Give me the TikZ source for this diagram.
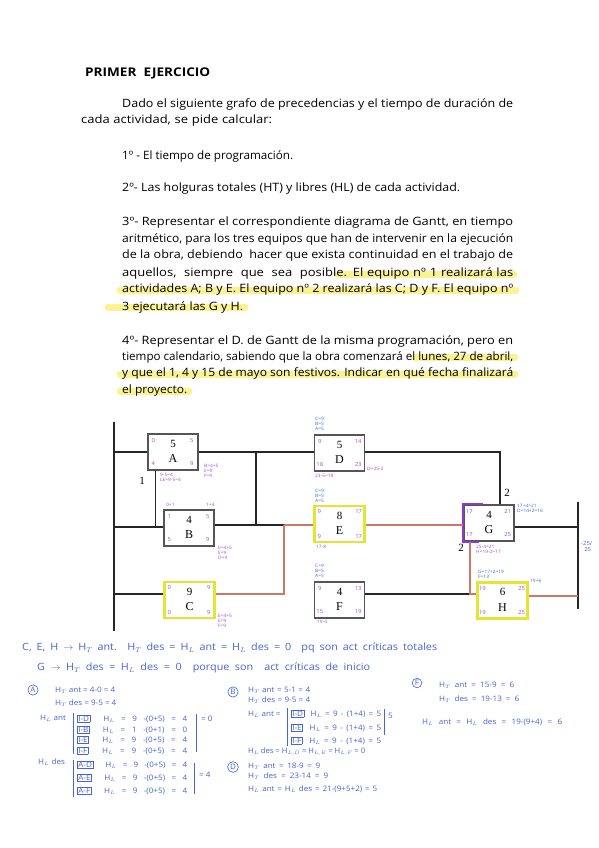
\documentclass[tikz,border=0pt]{standalone}
\usepackage{fontspec}
\setmainfont{Open Sans}[FakeStretch=1.13]
\newfontfamily\serifnum{Liberation Serif}
\newfontfamily\hwf{Open Sans}[FakeStretch=1.08]
\usetikzlibrary{calc}
\definecolor{hl}{RGB}{247,240,110}
\definecolor{boxgray}{RGB}{85,85,85}
\definecolor{ybox}{RGB}{228,228,50}
\definecolor{redl}{RGB}{205,120,100}
\definecolor{purp}{RGB}{135,60,205}
\definecolor{hwblue}{RGB}{70,100,210}
\definecolor{hwpurp}{RGB}{150,80,210}
\newsavebox\lnbox
\newcommand{\jl}[2]{\sbox\lnbox{#2}\ifdim\wd\lnbox>#1\resizebox{#1}{\height}{#2}\else\makebox[#1][s]{#2}\fi}
\newcommand{\bx}[1]{{\setlength{\fboxsep}{0.6pt}\setlength{\fboxrule}{0.5pt}\fbox{#1}}}
\newcommand{\myact}[9]{%
  \node[#9] (#1) at (#2) {};
  \node[durtxt] (#1d) at ($(#1.north)+(0,11)$) {#3};
  \node[lettxt] (#1l) at ($(#1.center)+(0,7)$) {#4};
  \node[cor] (#1tl) at ($(#1.north west)+(6,7)$) {#5};
  \node[cor] (#1tr) at ($(#1.north east)+(-7,7)$) {#6};
  \node[cor] (#1bl) at ($(#1.south west)+(6,-7)$) {#7};
  \node[cor] (#1br) at ($(#1.south east)+(-7,-7)$) {#8};
}
\begin{document}
\begin{tikzpicture}[x=1pt,y=-1pt,
  body/.style={anchor=west,inner sep=0,font=\fontsize{11.5}{13}\selectfont},
  hlt/.style={draw=hl,line width=7pt,line cap=round,opacity=0.75},
  actg/.style={draw=boxgray,line width=1.4pt,minimum width=50pt,minimum height=36pt,inner sep=0,fill=white},
  acty/.style={actg,draw=ybox,line width=2.4pt},
  durtxt/.style={inner sep=0,font=\serifnum\fontsize{11}{12}\selectfont},
  lettxt/.style={inner sep=0,font=\serifnum\fontsize{12}{13}\selectfont},
  cor/.style={inner sep=0,text=hwpurp,font=\hwf\fontsize{5.5}{6}\selectfont},
  conn/.style={draw=black!85,line width=1.3pt},
  crit/.style={draw=redl,line width=2pt},
  lagtxt/.style={inner sep=0,font=\serifnum\fontsize{11}{12}\selectfont},
  pn/.style={anchor=west,inner sep=0,text=hwpurp,font=\hwf\fontsize{4.5}{5}\selectfont,align=left},
  bn/.style={pn,text=hwblue},
  hw/.style={anchor=west,inner sep=0,text=hwblue,font=\hwf\fontsize{7.5}{8}\selectfont},
  hwl/.style={hw,font=\hwf\fontsize{10}{11}\selectfont},
  brk/.style={draw=hwblue,line width=0.6pt},
  circ/.style={draw=hwblue,circle,line width=0.6pt,inner sep=1pt,text=hwblue,font=\hwf\fontsize{7.5}{7.5}\selectfont}
]
\useasboundingbox (0,0) rectangle (599,848);
\fill[white] (0,0) rectangle (599,848);

% highlights
\draw[hlt] (338,274) -- (514,274);
\draw[hlt] (120,290) -- (516,290);
\draw[hlt] (108,307) -- (245,307);
\draw[hlt] (415,357) -- (515,357);
\draw[hlt] (120,374) -- (515,374);
\draw[hlt] (120,391) -- (189,391);

% text
\node[body,font=\bfseries\fontsize{12}{13}\selectfont] (title) at (85,73) {\jl{125pt}{PRIMER \ EJERCICIO}};
\node[body] (p1a) at (122,104) {\jl{391pt}{Dado el siguiente grafo de precedencias y el tiempo de duración de}};
\node[body] (p1b) at (81,121) {\jl{191pt}{cada actividad, se pide calcular:}};
\node[body] (p2) at (122,156) {\jl{171pt}{1º - El tiempo de programación.}};
\node[body] (p3) at (122,189) {\jl{338pt}{2º- Las holguras totales (HT) y libres (HL) de cada actividad.}};
\node[body] (p4a) at (122,223) {\jl{391pt}{3º- Representar el correspondiente diagrama de Gantt, en tiempo}};
\node[body] (p4b) at (122,239) {\jl{391pt}{aritmético, para los tres equipos que han de intervenir en la ejecución}};
\node[body] (p4c) at (122,256) {\jl{391pt}{de la obra, debiendo \ hacer que exista continuidad en el trabajo de}};
\node[body] (p4d) at (122,273) {\jl{391pt}{aquellos, \ siempre \ que \ sea \ posible. El equipo nº 1 realizará las}};
\node[body] (p4e) at (122,289) {\jl{391pt}{actividades A; B y E. El equipo nº 2 realizará las C; D y F. El equipo nº}};
\node[body] (p4f) at (122,307) {\jl{121pt}{3 ejecutará las G y H.}};
\node[body] (p5a) at (122,341) {\jl{391pt}{4º- Representar el D. de Gantt de la misma programación, pero en}};
\node[body] (p5b) at (122,357) {\jl{391pt}{tiempo calendario, sabiendo que la obra comenzará el lunes, 27 de abril,}};
\node[body] (p5c) at (122,373) {\jl{391pt}{y que el 1, 4 y 15 de mayo son festivos. Indicar en qué fecha finalizará}};
\node[body] (p5d) at (122,391) {\jl{65pt}{el proyecto.}};

% activities
\myact{A}{173,452}{5}{A}{0}{5}{4}{9}{actg}
\myact{B}{189,528}{4}{B}{1}{5}{5}{9}{actg}
\myact{C}{189.5,600}{9}{C}{0}{9}{0}{9}{acty}
\myact{D}{339.5,453}{5}{D}{9}{14}{18}{23}{actg}
\myact{E}{339.5,524}{8}{E}{9}{17}{9}{17}{acty}
\myact{F}{339.5,600}{4}{F}{9}{13}{15}{19}{actg}
\myact{G}{489,523}{4}{G}{17}{21}{17}{25}{actg}
\myact{H}{502.5,600.5}{6}{H}{19}{25}{19}{25}{acty}
\draw[purp,line width=2pt] ($(G.north west)+(20,0)$) -- (G.north west) -- (G.south west) -- ($(G.south west)+(16,0)$);

% connectors
\coordinate (r1) at (0,452);
\coordinate (r2) at (0,525);
\coordinate (r2b) at (0,527);
\coordinate (r3) at (0,594);
\coordinate (r3b) at (0,595.5);
\coordinate (s1) at (114,422);
\coordinate (s2) at (114,631);
\coordinate (e1) at (578,502);
\coordinate (e2) at (578,609);
\draw[conn] (s1) -- (s2);
\draw[conn] (e1) -- (e2);
\draw[conn] (s1 |- A.west) -- (A.west);
\draw[conn] (s1 |- r2b) -- (B.west |- r2b);
\draw[conn] (s1 |- r3) -- (C.west |- r3);
\coordinate (a1) at ($(A.south west)+(8,0)$);
\draw[conn] (a1) -- (a1 |- r2b);
\draw[conn] (A.east) -- (D.west |- A.east);
\coordinate (j1) at (256,452);
\draw[conn] (j1) -- (j1 |- r2);
\coordinate (j2) at (284,525);
\draw[conn] (B.east |- r2) -- (j2);
\draw[crit] (j2) -- (E.west |- r2);
\draw[crit] (j2) -- (j2 |- r3) -- (C.east |- r3);
\coordinate (j3) at (500,452);
\draw[conn] (D.east |- j3) -- (j3) -- (j3 |- G.north);
\draw[crit] (E.east |- r2) -- (G.west |- r2);
\draw[conn] (G.east |- r2b) -- (e1 |- r2b);
\coordinate (j4) at ($(G.south west)+(7,0)$);
\draw[conn] (F.east |- r3) -- (j4 |- r3);
\draw[crit] (j4) -- (j4 |- r3) -- (H.west |- r3);
\draw[crit] (H.east |- r3b) -- (e1 |- r3b);
\node[lagtxt] (lag1) at (142,481) {1};
\node[lagtxt] (lag2) at (507,493) {2};
\node[lagtxt] (lag3) at (461,548) {2};

% small annotations near the graph
\node[pn] (nA1) at (160,477) {9-5=4\\LE=9-5=4};
\node[pn] (nA2) at (204,471) {B=4+5\\E=9\\F=9};
\node[pn] (nB0) at (166,505) {0+1};
\node[pn] (nB00) at (206,505) {1+4};
\node[pn] (nB1) at (218,553) {E=4+5\\E=9\\D=9};
\node[pn] (nC1) at (218,621) {E=4+5\\E=9\\F=9};
\node[bn] (nD0) at (315,424) {C=9\\B=5\\A=5};
\node[pn] (nD1) at (367,469) {D=25-2};
\node[pn] (nD2) at (315,476) {23-5=18};
\node[bn] (nE0) at (315,496) {C=9\\B=5\\A=5};
\node[pn] (nE1) at (316,547) {17-8};
\node[bn] (nF0) at (315,571) {C=9\\B=5\\A=5};
\node[pn] (nF1) at (317,622) {19-4};
\node[bn] (nG1) at (517,508) {17+4=21\\D=14+2=16};
\node[pn] (nG2) at (476,549) {25-4=21\\H=19-2=17};
\node[bn] (nH0) at (478,574) {G=17+2=19\\F=13};
\node[bn] (nH1) at (530,581) {19+6};
\node[bn,font=\hwf\fontsize{5.5}{6}\selectfont] (nEnd) at (581,547) {-25/\\\ \ 25};

% handwritten notes
\node[hwl] (h1) at (22,648) {\jl{415pt}{C, E, H $\rightarrow$ H$_T$ ant. H$_T$ des = H$_L$ ant = H$_L$ des = 0 \ pq son act críticas totales}};
\node[hwl] (h2) at (37,668) {\jl{333pt}{G $\rightarrow$ H$_T$ des = H$_L$ des = 0 \ porque son \ act críticas de inicio}};

\node[circ] (cA) at (33,690) {A};
\node[hw] (a1t) at (55,690) {H$_T$ ant = 4-0 = 4};
\node[hw] (a2t) at (55,703) {H$_T$ des = 9-5 = 4};
\node[hw] (a3t) at (40,718) {H$_L$ ant};
\draw[brk] (73,713) -- (73,754);
\node[hw] (a4t) at (77,719) {\jl{110pt}{\bx{I-D} \ H$_L$ = 9 -(0+5) = 4}};
\node[hw] (a5t) at (77,730) {\jl{110pt}{\bx{I-B} \ H$_L$ = 1 -(0+1) = 0}};
\node[hw] (a6t) at (77,740) {\jl{110pt}{\bx{I-E} \ H$_L$ = 9 -(0+5) = 4}};
\node[hw] (a7t) at (77,751) {\jl{110pt}{\bx{I-F} \ H$_L$ = 9 -(0+5) = 4}};
\draw[brk] (196,714) -- (196,752);
\node[hw] (a8t) at (201,719) {= 0};
\node[hw] (a9t) at (38,762) {H$_L$ des};
\draw[brk] (73,760) -- (73,797);
\node[hw] (a10t) at (77,765) {\jl{110pt}{\bx{A-D} \ H$_L$ = 9 -(0+5) = 4}};
\node[hw] (a11t) at (77,778) {\jl{110pt}{\bx{A-E} \ H$_L$ = 9 -(0+5) = 4}};
\node[hw] (a12t) at (77,791) {\jl{110pt}{\bx{A-F} \ H$_L$ = 9 -(0+5) = 4}};
\draw[brk] (194,763) -- (194,794);
\node[hw] (a13t) at (199,775) {= 4};

\node[circ] (cB) at (233,692) {B};
\node[hw] (b1t) at (248,690) {\jl{62pt}{H$_T$ ant = 5-1 = 4}};
\node[hw] (b2t) at (248,700) {\jl{62pt}{H$_T$ des = 9-5 = 4}};
\node[hw] (b3t) at (248,714) {H$_L$ ant =};
\draw[brk] (287,708) -- (287,746);
\node[hw] (b4t) at (291,714) {\jl{90pt}{\bx{I-D} \ H$_L$ = 9 - (1+4) = 5}};
\node[hw] (b5t) at (291,728) {\jl{90pt}{\bx{I-E} \ H$_L$ = 9 - (1+4) = 5}};
\node[hw] (b6t) at (291,741) {\jl{90pt}{\bx{I-F} \ H$_L$ = 9 - (1+4) = 5}};
\draw[brk] (384,709) -- (384,735);
\node[hw] (b7t) at (388,716) {5};
\node[hw] (b8t) at (248,752) {\jl{117pt}{H$_L$ des = H$_{L,D}$ = H$_{L,E}$ = H$_{L,F}$ = 0}};

\node[circ] (cD) at (233,767) {D};
\node[hw] (d1t) at (248,766) {\jl{72pt}{H$_T$ ant = 18-9 = 9}};
\node[hw] (d2t) at (248,776) {\jl{80pt}{H$_T$ des = 23-14 = 9}};
\node[hw] (d3t) at (248,789) {\jl{129pt}{H$_L$ ant = H$_L$ des = 21-(9+5+2) = 5}};

\node[circ] (cF) at (417,683) {F};
\node[hw] (f1t) at (439,685) {\jl{75pt}{H$_T$ ant = 15-9 = 6}};
\node[hw] (f2t) at (439,699) {\jl{80pt}{H$_T$ des = 19-13 = 6}};
\node[hw] (f3t) at (422,722) {\jl{140pt}{H$_L$ ant = H$_L$ des = 19-(9+4) = 6}};
\end{tikzpicture}
\end{document}
